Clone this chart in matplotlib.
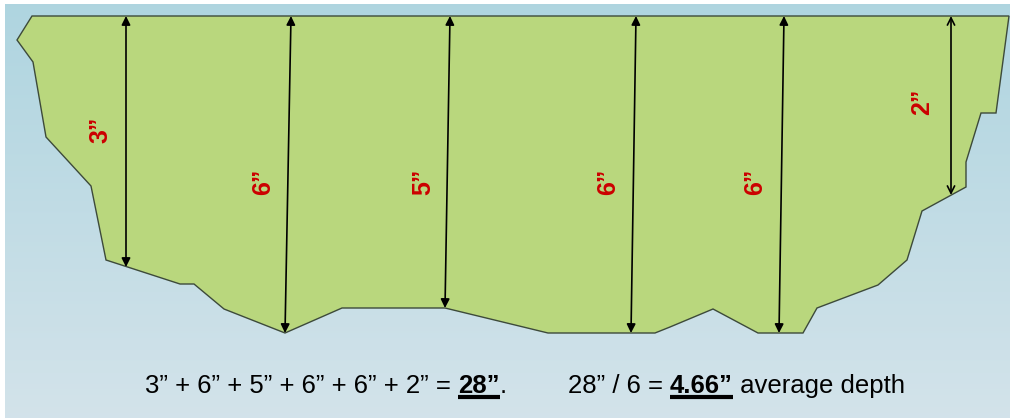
import numpy as np
import matplotlib.pyplot as plt

# cross-section outline (pixel coords of the picture, y downwards)
bank_x = [32, 17, 33, 46, 91, 106, 180, 194, 224, 285, 342, 445, 548, 655, 670,
          713, 758, 803, 817, 878, 907, 922, 966, 966, 981, 996, 1009]
bank_y = [16, 40, 62, 137, 186, 260, 284, 284, 309, 333, 308, 308, 333, 333, 327,
          309, 333, 333, 308, 285, 260, 211, 187, 162, 113, 113, 16]

# depth measurements: top point, bottom point, label
depth_x0 = [126, 291, 450, 636, 784, 951]
depth_y0 = [16, 16, 16, 16, 16, 16]
depth_x1 = [126, 285, 445, 631, 779, 951]
depth_y1 = [267, 333, 308, 333, 333, 195]
depth_lbl = ['3”', '6”', '5”', '6”', '6”', '2”']
lbl_x = [100, 263, 423, 608, 755, 922]
lbl_y = [130, 182, 182, 182, 182, 102]

# bottom equation, split into (text, bold/underlined) pieces
sum_parts = [('3” + 6” + 5” + 6” + 6” + 2” = ', False), ('28”', True), ('.', False)]
avg_parts = [('28” / 6 = ', False), ('4.66”', True), (' average depth', False)]

W, H = 1010, 418
fig = plt.figure(figsize=(W / 100, H / 100), dpi=100)
ax = fig.add_axes([0, 0, 1, 1])
ax.set_xlim(0, W)
ax.set_ylim(H, 0)
ax.axis('off')
fig.patch.set_facecolor('white')

# light blue gradient background
grad = np.linspace(0, 1, 256).reshape(-1, 1)
top = np.array([0.686, 0.835, 0.878])
bot = np.array([0.827, 0.890, 0.918])
img = top + (bot - top) * grad[..., None]
img = img * np.ones((1, 2, 1))
ax.imshow(img, extent=[5, W, H, 4], aspect='auto', zorder=0)

ax.fill(bank_x, bank_y, facecolor='#b9d77d', edgecolor='#3d4a3a', linewidth=1.0, zorder=1)

for i in range(len(depth_x0)):
    style = '<->' if i == len(depth_x0) - 1 else '<|-|>'
    ax.annotate('', xy=(depth_x1[i], depth_y1[i]), xytext=(depth_x0[i], depth_y0[i]),
                arrowprops=dict(arrowstyle=style, color='black', lw=1.2,
                                mutation_scale=13, shrinkA=0, shrinkB=0), zorder=3)
    ax.text(lbl_x[i], lbl_y[i], depth_lbl[i], rotation=90, color='#cc0000',
            fontsize=18, fontweight='bold', family='Liberation Sans',
            ha='center', va='center', zorder=4)

fig.canvas.draw()
r = fig.canvas.get_renderer()
inv = ax.transData.inverted()


def write_line(parts, x, y):
    for txt, bold in parts:
        t = ax.text(x, y, txt, fontsize=18.5, family='Liberation Sans',
                    fontweight='bold' if bold else 'normal', ha='left', va='baseline',
                    color='black', zorder=4)
        bb = t.get_window_extent(r)
        x_end = inv.transform((bb.x1, bb.y0))[0]
        if bold:
            ax.plot([x, x_end], [y + 4, y + 4], color='black', lw=3, zorder=4,
                    solid_capstyle='butt')
        x = x_end


write_line(sum_parts, 145, 393)
write_line(avg_parts, 568, 393)

fig.savefig('out.png', dpi=100)
